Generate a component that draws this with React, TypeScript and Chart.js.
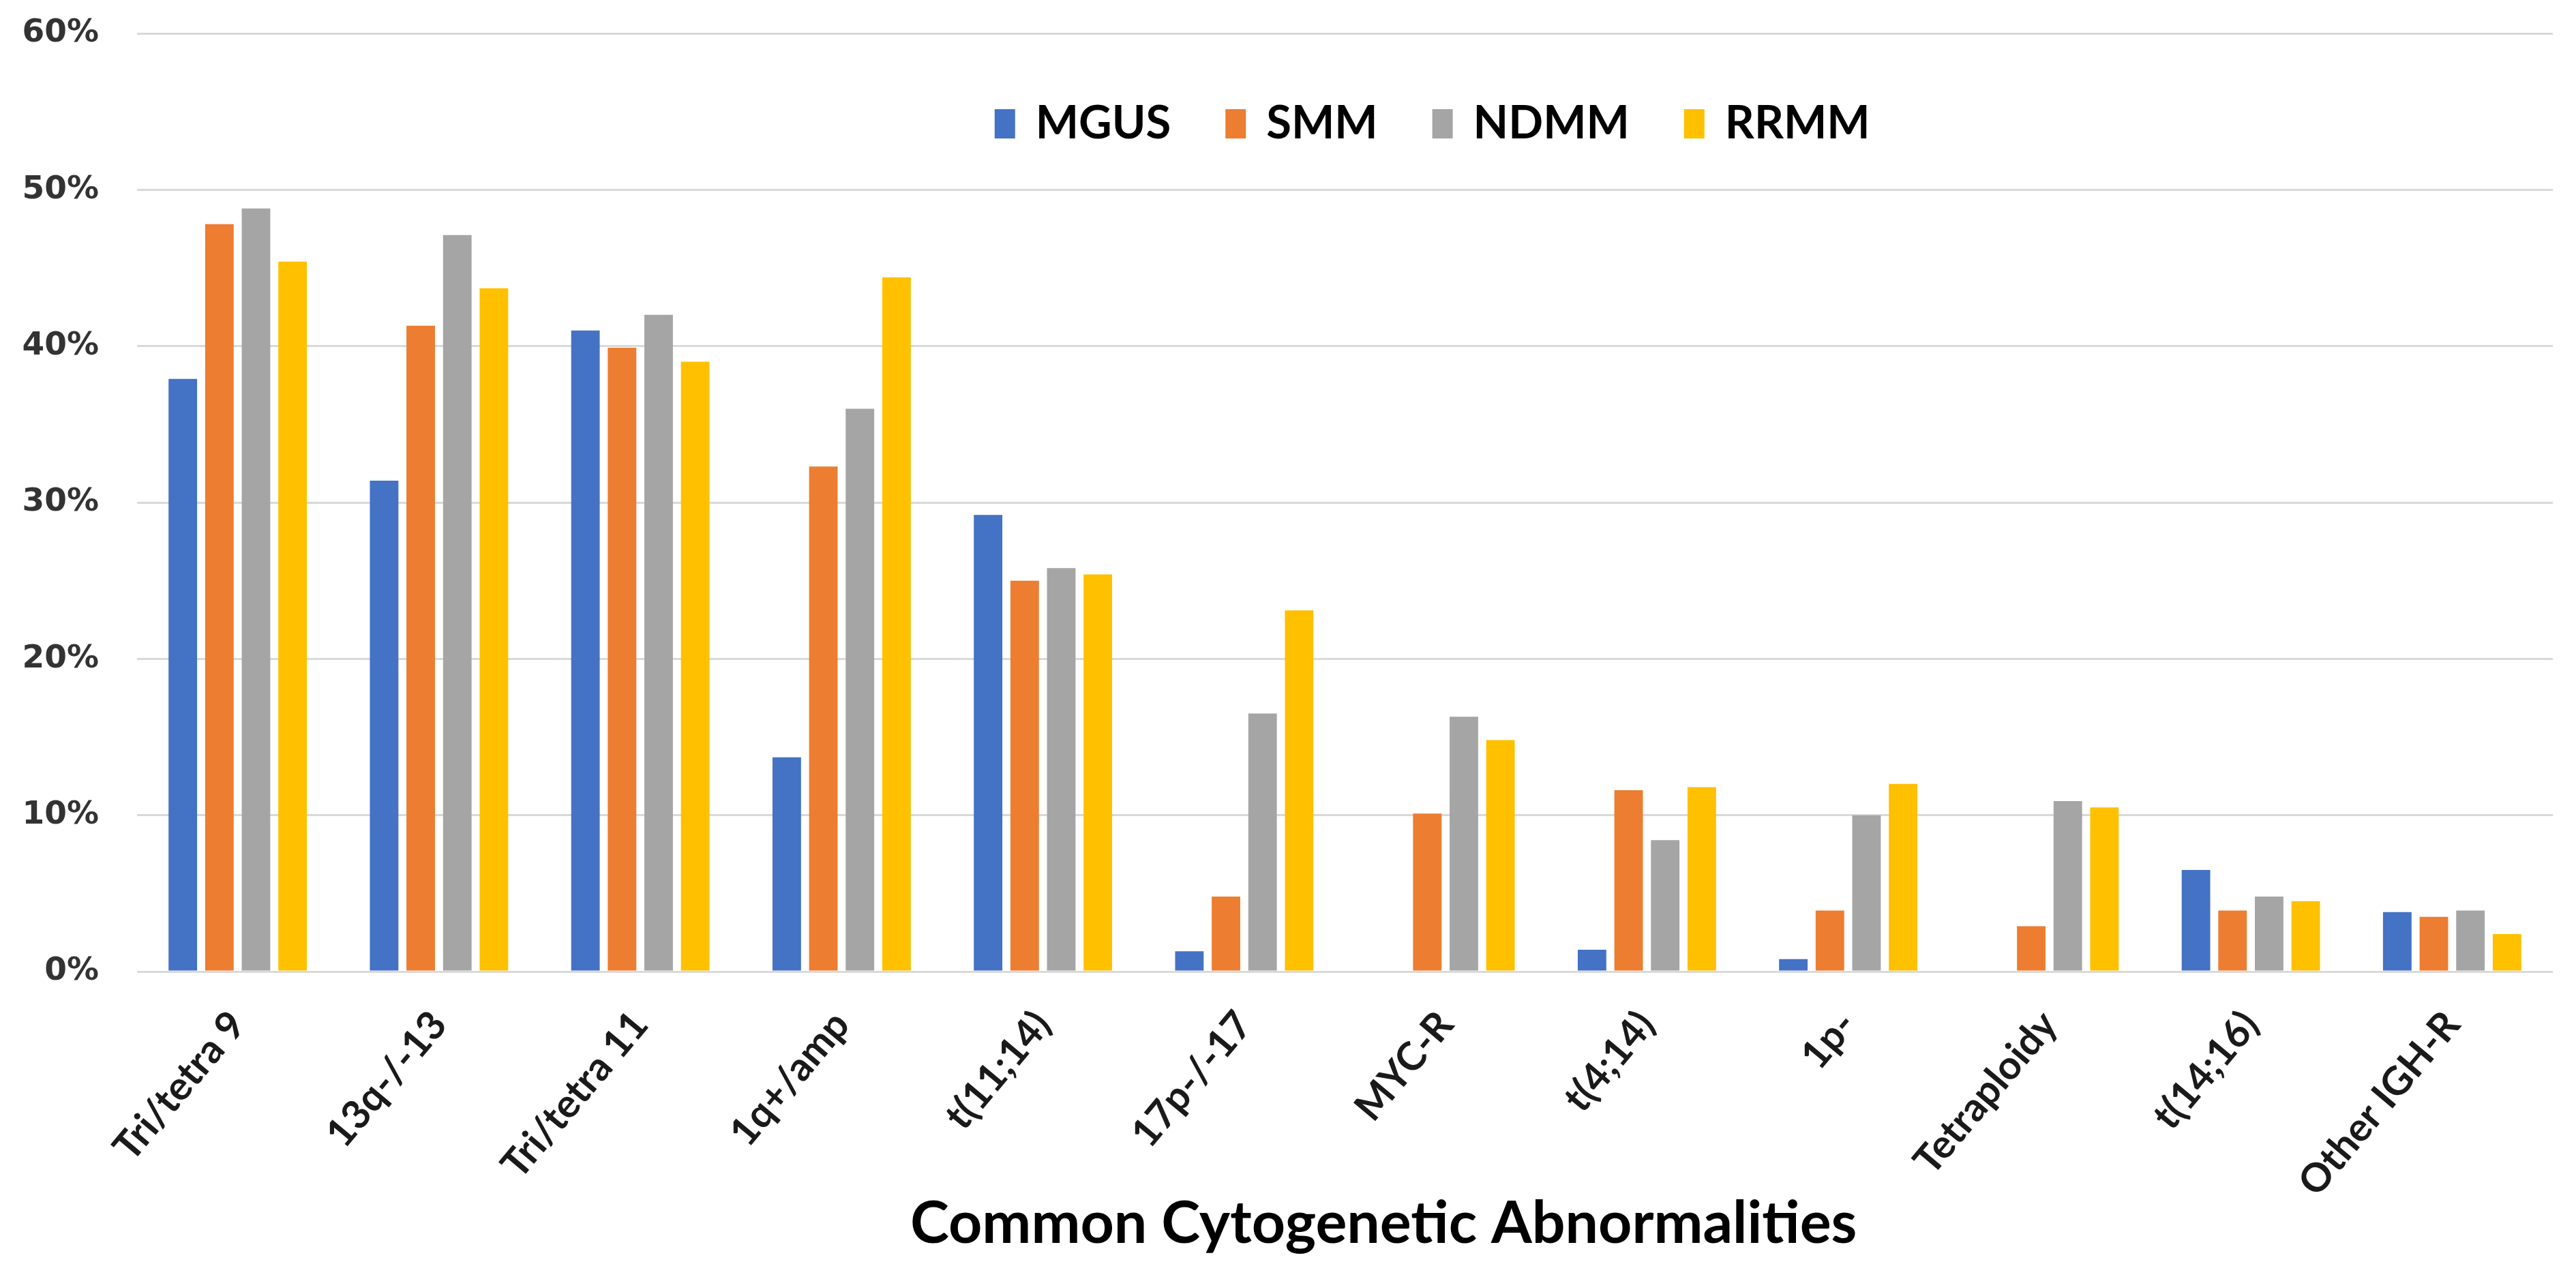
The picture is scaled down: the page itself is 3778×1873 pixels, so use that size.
import { useEffect, useRef } from "react";
import { Chart, registerables } from "chart.js";

Chart.register(...registerables);

const categories = [
  "Tri/tetra 9",
  "13q-/-13",
  "Tri/tetra 11",
  "1q+/amp",
  "t(11;14)",
  "17p-/-17",
  "MYC-R",
  "t(4;14)",
  "1p-",
  "Tetraploidy",
  "t(14;16)",
  "Other IGH-R",
];
const seriesNames = ["MGUS", "SMM", "NDMM", "RRMM"];
const mgus = [37.9, 31.4, 41.0, 13.7, 29.2, 1.3, 0, 1.4, 0.8, 0, 6.5, 3.8];
const smm = [47.8, 41.3, 39.9, 32.3, 25.0, 4.8, 10.1, 11.6, 3.9, 2.9, 3.9, 3.5];
const ndmm = [48.8, 47.1, 42.0, 36.0, 25.8, 16.5, 16.3, 8.4, 10.0, 10.9, 4.8, 3.9];
const rrmm = [45.4, 43.7, 39.0, 44.4, 25.4, 23.1, 14.8, 11.8, 12.0, 10.5, 4.5, 2.4];
const seriesColors = ["#4472C4", "#ED7D31", "#A5A5A5", "#FFC000"];
const yTicks = [0, 10, 20, 30, 40, 50, 60];
const xTitle = "Common Cytogenetic Abnormalities";

// Legend drawn inside the plot area (as in the original Excel chart)
const legendPlugin = {
  id: "insideLegend",
  afterDraw(chart: any) {
    const { ctx, chartArea } = chart;
    const w = chartArea.right - chartArea.left;
    const h = chartArea.bottom - chartArea.top;
    let x = chartArea.left + 0.355 * w;
    const base = chartArea.top + 0.112 * h;
    ctx.save();
    ctx.font = "bold 67px Lato";
    ctx.textBaseline = "alphabetic";
    ctx.textAlign = "left";
    chart.data.datasets.forEach((ds: any) => {
      ctx.fillStyle = ds.backgroundColor;
      ctx.fillRect(x, base - 43, 30, 43);
      x += 60;
      ctx.fillStyle = "#000000";
      ctx.fillText(ds.label, x, base);
      x += ctx.measureText(ds.label).width + 80;
    });
    ctx.restore();
  },
};

// Axis title, centred slightly right of the plot centre like the original
const axisTitlePlugin = {
  id: "axisTitle",
  afterDraw(chart: any) {
    const { ctx, chartArea, height } = chart;
    const w = chartArea.right - chartArea.left;
    ctx.save();
    ctx.font = "bold 86px Lato";
    ctx.fillStyle = "#000000";
    ctx.textAlign = "center";
    ctx.textBaseline = "middle";
    ctx.fillText(xTitle, chartArea.left + 0.516 * w, height - 70);
    ctx.restore();
  },
};

export default function App() {
  const canvasRef = useRef<HTMLCanvasElement | null>(null);

  useEffect(() => {
    if (!canvasRef.current) return;
    const seriesValues = [mgus, smm, ndmm, rrmm];
    const chart = new Chart(canvasRef.current, {
      type: "bar",
      data: {
        labels: categories,
        datasets: seriesNames.map((name, i) => ({
          label: name,
          data: seriesValues[i],
          backgroundColor: seriesColors[i],
          borderWidth: 0,
          barPercentage: 0.78,
          categoryPercentage: 0.727,
        })),
      },
      options: {
        animation: false,
        responsive: true,
        maintainAspectRatio: false,
        layout: { padding: { top: 41, right: 26, left: 0, bottom: 0 } },
        plugins: {
          legend: { display: false },
          tooltip: { enabled: false },
        },
        scales: {
          x: {
            grid: { display: false, drawTicks: false },
            border: { display: false },
            ticks: {
              autoSkip: false,
              minRotation: 50,
              maxRotation: 50,
              padding: 45,
              color: "#1a1a1a",
              font: { family: "Lato", weight: "bold", size: 58 },
            },
            title: { display: false, text: xTitle },
            afterFit: (s: any) => {
              s.height = 440;
            },
          },
          y: {
            min: 0,
            max: 60,
            afterBuildTicks: (s: any) => {
              s.ticks = yTicks.map((v) => ({ value: v }));
            },
            ticks: {
              padding: 0,
              color: "#333333",
              font: { family: "DejaVu Sans", weight: "bold", size: 47 },
              callback: (v: any) => `${v}%`,
            },
            grid: {
              color: "#D9D9D9",
              lineWidth: 3,
              drawTicks: true,
              tickLength: 56,
              tickColor: "rgba(0,0,0,0)",
            },
            border: { display: false },
            afterFit: (s: any) => {
              s.width = 193;
            },
          },
        },
      },
      plugins: [legendPlugin, axisTitlePlugin],
    });
    return () => chart.destroy();
  }, []);

  return (
    <div style={{ position: "relative", width: "3762px", height: "1857px" }}>
      <canvas ref={canvasRef} />
    </div>
  );
}
